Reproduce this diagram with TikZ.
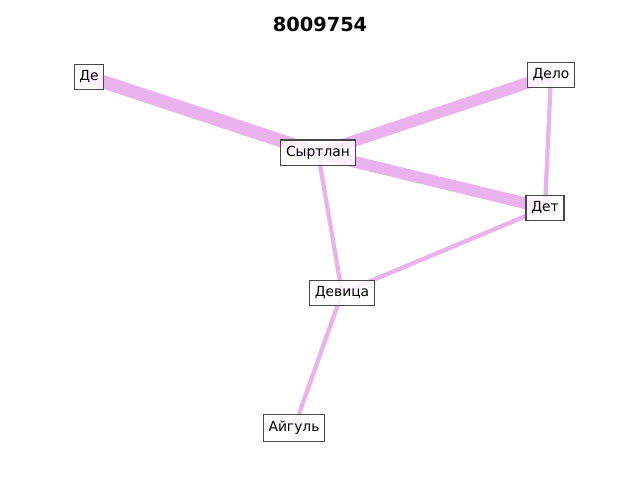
\documentclass[tikz,border=0pt]{standalone}
\usepackage{fontspec}
\setmainfont{DejaVu Sans}
\usetikzlibrary{positioning,backgrounds}
\definecolor{linkcol}{RGB}{234,178,236}

\begin{document}
\begin{tikzpicture}[x=0.01in,y=-0.01in,font=\fontsize{10}{12}\selectfont]
\tikzstyle{word}=[draw=black!72,fill=white,fill opacity=0.8,text opacity=1,inner xsep=3.8pt,inner ysep=4.6pt,line width=0.8pt]
\tikzstyle{thin}=[draw=linkcol,line width=3.1pt]
\tikzstyle{thick}=[draw=linkcol,line width=8.4pt]
\useasboundingbox (0,0) rectangle (640,480);
\node[font=\fontsize{14}{16}\selectfont\bfseries] (title) at (320,24) {8009754};
\node[word] (de) at (89,77) {Де};
\node[word] (delo) at (551,75) {Дело};
\node[word] (syrtlan) at (318,153) {Сыртлан};
\node[word] (det) at (545,208) {Дет};
\node[word] (devica) at (342,293) {Девица};
\node[word] (aigul) at (294,428) {Айгуль};
\begin{scope}[on background layer]
\path
(de.center) edge[thick,line width=9.6pt] (syrtlan.center)
(delo.center) edge[thick] (syrtlan.center)
(syrtlan.center) edge[thick] (det.center)
(delo.center) edge[thin] (det.center)
(syrtlan.center) edge[thin] (devica.center)
(det.center) edge[thin] (devica.center)
(devica.center) edge[thin] (aigul.center)
;
\end{scope}
\end{tikzpicture}
\end{document}
